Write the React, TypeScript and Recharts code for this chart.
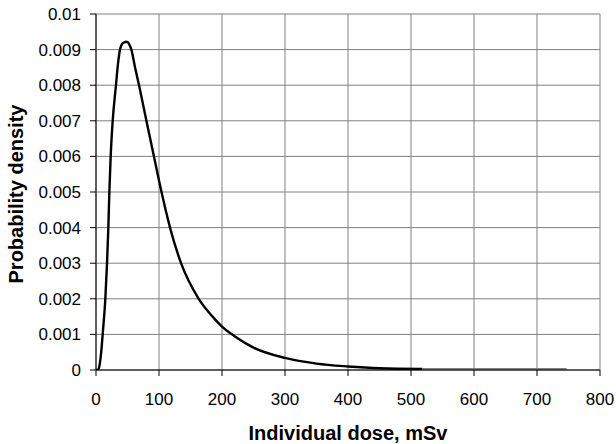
import React from 'react';
import { CartesianGrid, Line, LineChart, XAxis, YAxis } from 'recharts';

const FONT = '"Liberation Sans", Arial, sans-serif';

// dose in mSv
const doses = [0, 3, 5, 7, 9, 10.6, 14.8, 17.5, 19.6, 21.2, 23.3, 26.5, 31.7, 34.9, 38.1, 41, 44.5, 47.6, 51, 54, 56.1, 62, 68.3, 80, 92, 104, 117.5, 135, 163, 185, 200, 220, 250, 300, 350, 400, 450, 518];
const densities = [0, 0, 0.00008, 0.0003, 0.00065, 0.001, 0.002, 0.003, 0.004, 0.005, 0.006, 0.007, 0.008, 0.0086, 0.009, 0.00915, 0.0092, 0.00922, 0.0092, 0.0091, 0.009, 0.0085, 0.008, 0.007, 0.006, 0.005, 0.004, 0.003, 0.002, 0.0015, 0.00122, 0.00095, 0.00063, 0.00034, 0.00018, 0.0001, 0.00005, 0.00003];

// faint grey tail lying along the axis
const tailDoses = [518, 600, 747];
const tailDensities = [0.00002, 0.00002, 0.00002];

const xTicks = [0, 100, 200, 300, 400, 500, 600, 700, 800];
const yTicks = [0, 0.001, 0.002, 0.003, 0.004, 0.005, 0.006, 0.007, 0.008, 0.009, 0.01];
const yTickLabels = ['0', '0.001', '0.002', '0.003', '0.004', '0.005', '0.006', '0.007', '0.008', '0.009', '0.01'];

const curveData = doses.map((dose, i) => ({ dose, density: densities[i] }));
const tailData = tailDoses.map((dose, i) => ({ dose, density: tailDensities[i] }));

const XTitle = ({ viewBox }: any) => (
    <text
        x={viewBox.x + viewBox.width / 2}
        y={viewBox.y + 70}
        textAnchor="middle"
        fontSize={20}
        fontWeight="bold"
        fontFamily={FONT}
        fill="#000"
    >
        Individual dose, mSv
    </text>
);

const YTitle = ({ viewBox }: any) => {
    const cx = 23;
    const cy = viewBox.y + viewBox.height / 2 + 2;
    return (
        <text
            x={cx}
            y={cy}
            transform={`rotate(-90, ${cx}, ${cy})`}
            textAnchor="middle"
            fontSize={20}
            fontWeight="bold"
            fontFamily={FONT}
            fill="#000"
        >
            Probability density
        </text>
    );
};

export default function App() {
    return (
        <div style={{ position: 'absolute', left: 0, top: 0, background: '#fff' }}>
            <LineChart
                width={616}
                height={444}
                margin={{ top: 14, right: 16, left: 0, bottom: 0 }}
            >
                <CartesianGrid stroke="#808080" strokeWidth={1} />
                <XAxis
                    type="number"
                    dataKey="dose"
                    domain={[0, 800]}
                    ticks={xTicks}
                    allowDataOverflow
                    height={74}
                    stroke="#000"
                    tickSize={6}
                    tickMargin={17}
                    tick={{ fill: '#000', fontSize: 17, fontFamily: FONT }}
                    label={<XTitle />}
                />
                <YAxis
                    type="number"
                    domain={[0, 0.01]}
                    ticks={yTicks}
                    allowDataOverflow
                    width={96}
                    stroke="#000"
                    tickSize={6}
                    tickMargin={9}
                    tickFormatter={(v: number) => yTickLabels[yTicks.indexOf(v)] ?? String(v)}
                    tick={{ fill: '#000', fontSize: 17, fontFamily: FONT }}
                    label={<YTitle />}
                />
                <Line
                    data={tailData}
                    dataKey="density"
                    type="linear"
                    stroke="#808080"
                    strokeWidth={2.5}
                    dot={false}
                    isAnimationActive={false}
                />
                <Line
                    data={curveData}
                    dataKey="density"
                    type="monotone"
                    stroke="#000"
                    strokeWidth={2.4}
                    dot={false}
                    isAnimationActive={false}
                />
            </LineChart>
        </div>
    );
}
